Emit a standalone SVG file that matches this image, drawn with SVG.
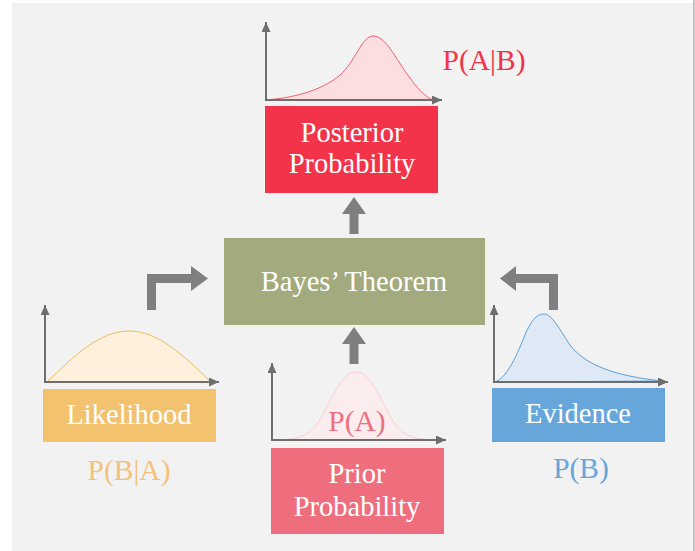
<svg xmlns="http://www.w3.org/2000/svg" width="695" height="551" viewBox="0 0 695 551">
<style>
text{font-family:"Liberation Serif","Times New Roman",Times,"Noto Serif","DejaVu Serif",Georgia,serif}
.t{font-size:28.5px;fill:#ffffff;text-anchor:middle}
.lbl{font-size:29.5px;text-anchor:middle}
.ax{stroke:#6e6e6e;stroke-width:2;fill:none;marker-end:url(#ah)}
.fat{fill:#7f7f7f}
</style>
<defs>
<marker id="ah" markerUnits="userSpaceOnUse" markerWidth="11" markerHeight="9" refX="10" refY="4.5" orient="auto">
<path d="M0,0 L10,4.5 L0,9 z" fill="#6e6e6e"/>
</marker>
</defs>
<rect x="0" y="0" width="695" height="551" fill="#ffffff"/>
<rect x="12" y="3" width="681" height="548" fill="#f2f2f2"/>
<rect x="693" y="0" width="2" height="551" fill="#c4c4c4"/>

<g id="connectors">
<polygon class="fat" points="349.5,234 349.5,214 342,214 354,197 366,214 358.5,214 358.5,234"/>
<polygon class="fat" points="349.5,364 349.5,344 342,344 354,327 366,344 358.5,344 358.5,364"/>
<polygon class="fat" points="147,310 147,274 191,274 191,266 208,278.5 191,291 191,283 156,283 156,310"/>
<polygon class="fat" points="558,310 558,274 516,274 516,266 500,278.5 516,291 516,283 549,283 549,310"/>
</g>

<g id="posterior">
<path d="M266,100 C290,98 320,92 340,75 C355,62 362,36 373,36 C386,36 395,58 410,78 C420,92 428,99 434,100 Z" fill="#fcdde0" stroke="#f06074" stroke-width="1"/>
<line class="ax" x1="266" y1="101" x2="266" y2="22"/>
<line class="ax" x1="265" y1="100" x2="442" y2="100"/>
<rect x="265" y="106" width="173" height="87" fill="#f2334a"/>
<text class="t" x="352" y="142">Posterior</text>
<text class="t" x="352" y="173">Probability</text>
<text class="lbl" x="484" y="70" fill="#f2334a">P(A|B)</text>
</g>

<g id="bayes">
<rect x="224" y="238" width="261" height="87" fill="#a3aa7e"/>
<text class="t" x="354" y="291">Bayes’ Theorem</text>
</g>

<g id="likelihood">
<path d="M47,382 C75,355 100,331 129,331 C158,331 183,355 211,382 Z" fill="#fdf0dd" stroke="#f0bb5c" stroke-width="1"/>
<line class="ax" x1="45" y1="383" x2="45" y2="305"/>
<line class="ax" x1="44" y1="382" x2="219" y2="382"/>
<rect x="43" y="389" width="173" height="53" fill="#f2c26e"/>
<text class="t" x="129" y="424">Likelihood</text>
<text class="lbl" x="129" y="480" fill="#f2c27a">P(B|A)</text>
</g>

<g id="prior">
<path d="M273,440 C300,440 310,435 320,420 C335,392 342,372 356,372 C370,372 377,392 392,420 C402,435 412,440 440,440 Z" fill="#fbecee" stroke="#f9d0d6" stroke-width="1"/>
<line class="ax" x1="272" y1="441" x2="272" y2="363"/>
<line class="ax" x1="271" y1="440" x2="446" y2="440"/>
<text class="lbl" x="357" y="431" fill="#ee7080">P(A)</text>
<rect x="271" y="448" width="173" height="86" fill="#ef6e7e"/>
<text class="t" x="357" y="483">Prior</text>
<text class="t" x="357" y="516">Probability</text>
</g>

<g id="evidence">
<path d="M494,382 C505,380 515,360 525,335 C532,318 538,314 544,314 C552,314 560,330 570,345 C585,365 615,376 662,381 Z" fill="#dfe9f5" stroke="#5b9fd6" stroke-width="1"/>
<line class="ax" x1="494" y1="383" x2="494" y2="305"/>
<line class="ax" x1="493" y1="382" x2="668" y2="382"/>
<rect x="492" y="388" width="173" height="54" fill="#67a6da"/>
<text class="t" x="578" y="423">Evidence</text>
<text class="lbl" x="581" y="478" fill="#67a6da">P(B)</text>
</g>
</svg>
